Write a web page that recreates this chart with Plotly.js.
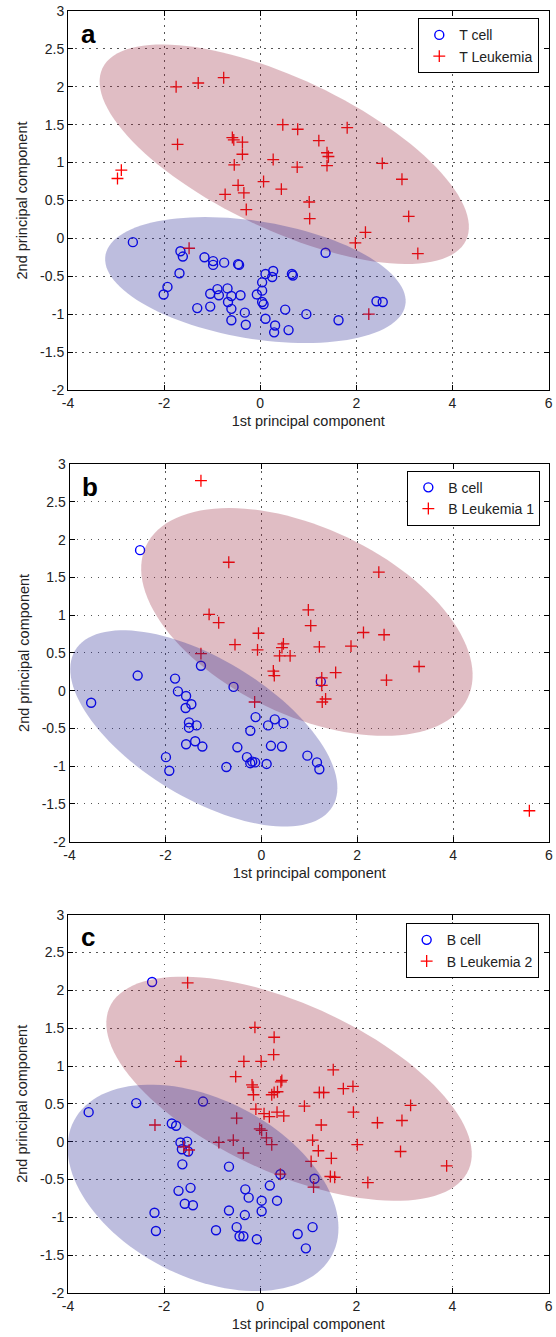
<!DOCTYPE html>
<html>
<head>
<meta charset="utf-8">
<script src="https://cdn.plot.ly/plotly-3.0.1.min.js"></script>
<style>html,body{margin:0;padding:0;background:#fff;}#chart{width:556px;height:1337px;}</style>
</head>
<body>
<div id="chart"></div>
<script>
// ---------- data ----------
const panelLetters = ['a', 'b', 'c'];
const cellNames = ['T cell', 'B cell', 'B cell'];
const leukNames = ['T Leukemia', 'B Leukemia 1', 'B Leukemia 2'];
const xTickVals = [-4, -2, 0, 2, 4, 6];
const yTickVals = [-2, -1.5, -1, -0.5, 0, 0.5, 1, 1.5, 2, 2.5, 3];
const xTitle = '1st principal component';
const yTitle = '2nd principal component';

// Panel a
const aCellX = [-2.65,-1.66,-1.61,-1.16,-0.98,-0.98,-0.75,-0.46,-0.44,-1.68,-1.93,-2.01,-1.04,-0.89,-0.86,-0.68,-0.60,-0.41,-0.67,-0.60,-1.04,-1.31,-0.60,-0.32,-0.30,0.04,0.11,0.27,0.25,0.04,-0.07,0.04,0.07,0.11,0.31,0.29,1.36,0.66,0.68,0.52,0.96,1.63,2.42,2.55,0.59];
const aCellY = [-0.05,-0.17,-0.24,-0.25,-0.30,-0.35,-0.32,-0.34,-0.35,-0.46,-0.64,-0.74,-0.73,-0.67,-0.75,-0.66,-0.76,-0.75,-0.84,-0.93,-0.90,-0.92,-1.08,-0.98,-1.14,-0.58,-0.47,-0.43,-0.51,-0.69,-0.74,-0.84,-0.87,-1.06,-1.15,-1.24,-0.19,-0.47,-0.49,-0.94,-1.00,-1.08,-0.83,-0.84,-1.21];
const aLeukX = [-1.75,-1.29,-0.76,-1.72,-0.58,-0.55,-0.37,-0.37,-0.54,0.27,-2.89,-2.97,0.07,-0.46,-0.34,-0.73,-0.29,0.44,0.47,0.78,1.81,1.22,1.39,1.42,1.39,0.77,2.54,2.95,1.02,1.03,3.09,2.19,1.98,3.28,2.26,-1.48];
const aLeukY = [2.00,2.05,2.12,1.24,1.33,1.30,1.27,1.11,0.97,1.04,0.90,0.79,0.75,0.70,0.60,0.58,0.38,0.65,1.50,1.44,1.46,1.29,1.13,1.08,0.96,0.94,0.99,0.78,0.48,0.26,0.29,0.08,-0.06,-0.20,-1.00,-0.13];

// Panel b
const bCellX = [-2.53,-1.26,-2.58,-1.80,-3.55,-1.74,-1.57,-1.46,-1.58,-0.58,-1.51,-1.51,-1.35,-1.57,-1.38,-1.23,-0.12,-0.23,0.28,0.14,-0.50,0.20,0.43,-1.99,-1.92,-0.73,-0.30,-0.23,-0.19,-0.13,0.11,0.46,0.96,1.16,1.21,1.24];
const bCellY = [1.86,0.33,0.20,0.16,-0.16,-0.01,-0.07,-0.18,-0.23,0.05,-0.42,-0.49,-0.46,-0.71,-0.67,-0.74,-0.35,-0.53,-0.38,-0.46,-0.75,-0.73,-0.74,-0.88,-1.06,-1.01,-0.88,-0.96,-0.94,-0.95,-0.97,-0.43,-0.86,-0.95,-1.04,0.12];
const bLeukX = [-1.26,-0.68,-1.09,-0.89,-0.06,-0.55,-0.08,-1.26,2.45,0.98,1.03,2.13,2.56,1.21,1.87,0.46,0.43,0.38,0.60,3.29,1.55,2.61,0.25,0.27,1.26,1.26,1.27,1.34,-0.14,5.59];
const bLeukY = [2.78,1.70,1.01,0.90,0.76,0.61,0.54,0.49,1.57,1.07,0.86,0.77,0.74,0.58,0.59,0.62,0.57,0.46,0.46,0.32,0.24,0.14,0.26,0.20,0.17,0.07,-0.15,-0.11,-0.15,-1.59];

// Panel c
const cCellX = [-2.25,-3.57,-2.58,-1.19,-1.84,-1.75,-1.66,-1.52,-1.63,-1.50,-1.62,-0.65,-1.70,-1.45,-1.57,-1.40,-2.20,-2.17,-0.92,-0.65,-0.31,-0.24,-0.32,-0.49,-0.43,-0.35,-0.07,0.03,0.03,0.20,0.35,0.42,1.13,1.09,0.78,0.95];
const cCellY = [2.11,0.39,0.51,0.53,0.24,0.21,-0.01,0.00,-0.10,-0.13,-0.30,-0.33,-0.65,-0.61,-0.82,-0.84,-0.94,-1.18,-1.17,-0.91,-0.63,-0.74,-0.97,-1.13,-1.25,-1.25,-1.29,-0.78,-0.92,-0.58,-0.78,-0.43,-0.49,-1.13,-1.22,-1.41];
const cLeukX = [-1.51,-0.11,0.29,0.28,-1.65,-0.34,0.02,-0.51,-0.17,-0.15,1.52,0.45,1.73,1.93,1.23,1.32,0.29,0.36,-0.14,0.24,-0.09,0.08,0.19,0.35,0.49,-0.49,-2.19,-0.01,0.03,-0.86,-0.56,0.13,0.24,-0.35,-1.59,-1.48,0.42,0.43,0.92,3.13,1.94,2.44,2.95,1.27,1.09,2.02,1.21,2.92,1.48,1.06,3.88,1.46,1.55,2.24,1.11];
const cLeukY = [2.10,1.51,1.38,1.15,1.06,1.06,1.06,0.86,0.75,0.72,0.95,0.81,0.70,0.73,0.65,0.65,0.65,0.66,0.62,0.62,0.43,0.37,0.33,0.39,0.34,0.31,0.22,0.17,0.15,-0.01,0.02,0.05,-0.04,-0.15,-0.07,-0.11,-0.43,0.79,0.47,0.48,0.39,0.25,0.28,0.22,0.02,-0.04,-0.12,-0.13,-0.22,-0.26,-0.32,-0.46,-0.47,-0.54,-0.60];

// Ellipses: order [a-leuk, a-cell, b-leuk, b-cell, c-leuk, c-cell]
const ellPanel = [0, 0, 1, 1, 2, 2];
const ellKind = ['leuk', 'cell', 'leuk', 'cell', 'leuk', 'cell'];
const ellCx = [0.50, -0.10, 0.95, -1.20, 0.60, -1.19];
const ellCy = [1.11, -0.55, 0.91, -0.50, 0.70, -0.61];
const ellA = [3.97, 3.14, 3.54, 2.91, 3.91, 2.88];
const ellB = [1.05, 0.78, 1.30, 0.99, 1.17, 1.23];
const ellAngle = [-15.1, -5.4, -13.4, -17.9, -14.1, -13.1];

// ---------- styles ----------
const FONT = 'Liberation Sans, Arial, Helvetica, sans-serif';
const cellColor = '#0000ff';
const leukColor = '#ff0000';
const ellFill = {leuk: 'rgb(152,38,58)', cell: 'rgb(38,38,145)'};

const cellX = [aCellX, bCellX, cCellX], cellY = [aCellY, bCellY, cCellY];
const leukX = [aLeukX, bLeukX, cLeukX], leukY = [aLeukY, bLeukY, cLeukY];

const xDomains = [[0, 0.999], [0.0033, 1], [0, 0.999]];
const yDomains = [[0.7044, 1], [0.3520, 0.6466], [0, 0.2951]];
const legendPos = [[0.9798, 0.9943], [0.982, 0.6414], [0.9785, 0.2884]];

const traces = [];
const layout = {
  width: 556, height: 1337,
  margin: {l: 68, r: 7, t: 11, b: 44, pad: 0},
  paper_bgcolor: '#ffffff', plot_bgcolor: '#ffffff',
  font: {family: FONT, size: 14, color: '#000'},
  shapes: [], annotations: []
};

for (let p = 0; p < 3; p++) {
  const sx = p === 0 ? '' : String(p + 1);
  const xa = 'x' + sx, ya = 'y' + sx;
  const lg = p === 0 ? 'legend' : 'legend' + (p + 1);
  traces.push({
    type: 'scatter', mode: 'markers', x: cellX[p], y: cellY[p], name: cellNames[p],
    xaxis: xa, yaxis: ya, legend: lg,
    marker: {symbol: 'circle-open', size: 9, color: cellColor, line: {width: 1.4, color: cellColor}}
  });
  traces.push({
    type: 'scatter', mode: 'markers', x: leukX[p], y: leukY[p], name: leukNames[p],
    xaxis: xa, yaxis: ya, legend: lg,
    marker: {symbol: 'cross-thin-open', size: 8.5, color: leukColor, line: {width: 1.3, color: leukColor}}
  });
  const axCommon = {
    showline: true, linecolor: '#000', linewidth: 1, mirror: 'ticks',
    ticks: 'inside', ticklen: 5, tickwidth: 1, tickcolor: '#000',
    showgrid: true, gridcolor: '#555', gridwidth: 1, griddash: '1.5px,5.5px',
    zeroline: false, tickfont: {family: FONT, size: 14, color: '#222'},
    fixedrange: true
  };
  layout['xaxis' + sx] = Object.assign({}, axCommon, {
    domain: xDomains[p], anchor: ya, range: [-4, 6], tickvals: xTickVals,
    ticktext: xTickVals.map(String),
    title: {text: xTitle, font: {family: FONT, size: 14.5, color: '#222'}, standoff: 6}
  });
  layout['yaxis' + sx] = Object.assign({}, axCommon, {
    domain: yDomains[p], anchor: xa, range: [-2, 3], tickvals: yTickVals,
    ticktext: yTickVals.map(String),
    title: {text: yTitle, font: {family: FONT, size: 14.5, color: '#222'}, standoff: 8}
  });
  layout[lg] = {
    x: legendPos[p][0], y: legendPos[p][1], xanchor: 'right', yanchor: 'top',
    bgcolor: '#ffffff', bordercolor: '#000', borderwidth: 1,
    font: {family: FONT, size: 14, color: '#222'}, tracegroupgap: 0,
    itemwidth: 30
  };
  layout.annotations.push({
    xref: xa + ' domain', yref: ya + ' domain', x: 0.022, y: 0.985,
    xanchor: 'left', yanchor: 'top', showarrow: false,
    text: '<b>' + panelLetters[p] + '</b>',
    font: {family: FONT, size: 26, color: '#000'}
  });
}

// ellipse shapes drawn through the axes' data scales
for (let i = 0; i < ellCx.length; i++) {
  const p = ellPanel[i];
  const sx = p === 0 ? '' : String(p + 1);
  const th = ellAngle[i] * Math.PI / 180;
  const n = 120;
  let d = '';
  for (let k = 0; k <= n; k++) {
    const t = 2 * Math.PI * k / n;
    const x = ellCx[i] + ellA[i] * Math.cos(th) * Math.cos(t) - ellB[i] * Math.sin(th) * Math.sin(t);
    const y = ellCy[i] + ellA[i] * Math.sin(th) * Math.cos(t) + ellB[i] * Math.cos(th) * Math.sin(t);
    d += (k === 0 ? 'M' : 'L') + x.toFixed(4) + ',' + y.toFixed(4);
  }
  d += 'Z';
  layout.shapes.push({
    type: 'path', path: d, xref: 'x' + sx, yref: 'y' + sx, layer: 'above',
    fillcolor: ellFill[ellKind[i]], opacity: 0.3, line: {width: 0}
  });
}

Plotly.newPlot('chart', traces, layout, {staticPlot: true, displayModeBar: false});
</script>
</body>
</html>
